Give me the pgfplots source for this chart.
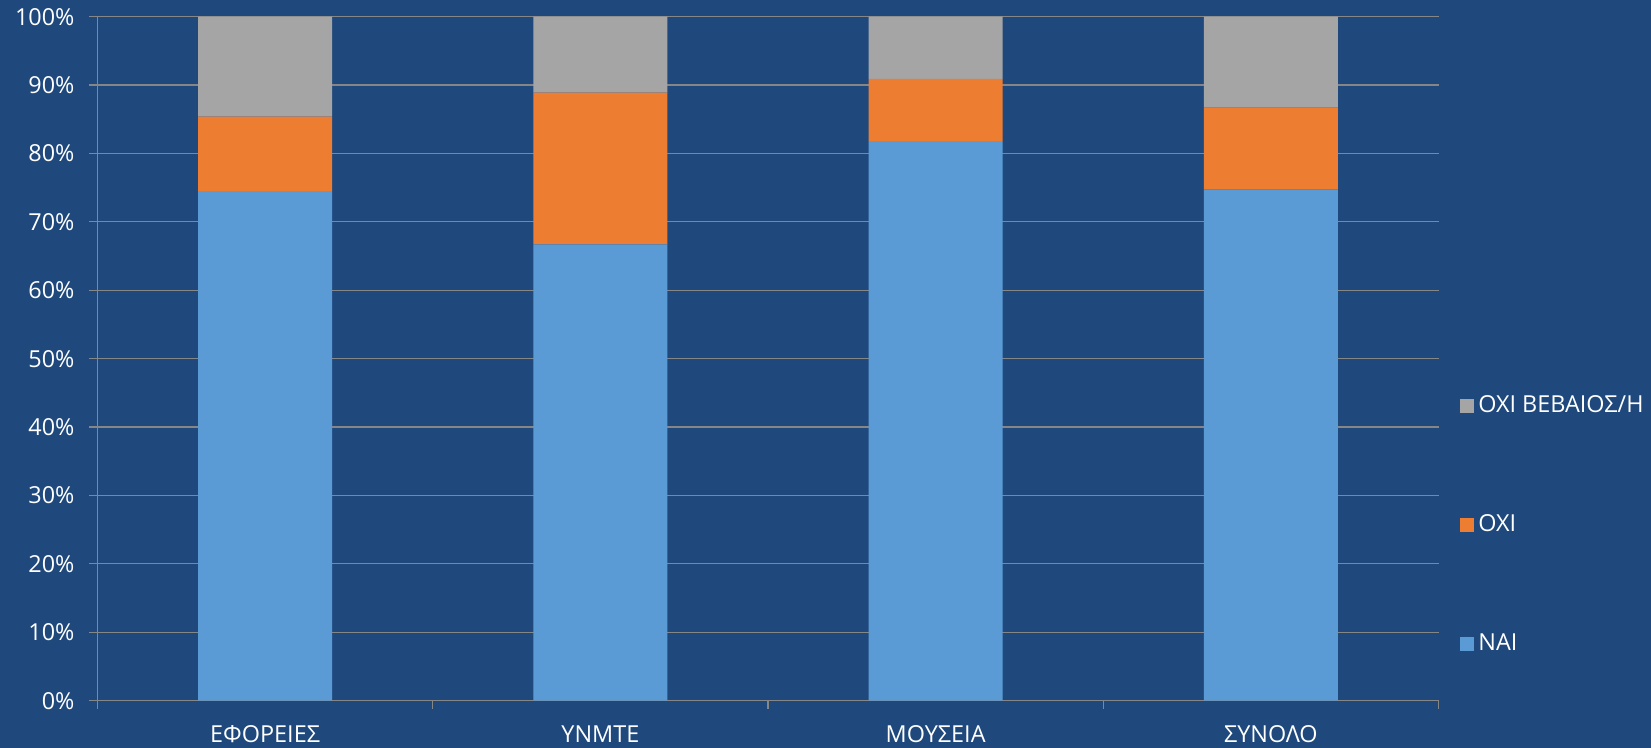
\documentclass[border=0pt]{standalone}
\usepackage{pgfplots}
\pgfplotsset{compat=1.18}
\usepackage{fontspec}
\setmainfont{Open Sans}
\definecolor{bg}{RGB}{31,73,125}
\definecolor{naicol}{RGB}{91,155,213}
\definecolor{oxicol}{RGB}{237,125,49}
\definecolor{nscol}{RGB}{165,165,165}
\definecolor{gridc}{RGB}{134,134,134}
\begin{document}
\begin{tikzpicture}
\path[fill=bg, use as bounding box] (0,0) rectangle (825.5pt,374pt);
\begin{axis}[
  at={(48.75pt,23.65pt)}, anchor=south west,
  width=670.5pt, height=342pt, scale only axis,
  ybar stacked, bar width=67pt,
  xmin=-0.5, xmax=3.5, ymin=0, ymax=100,
  xtick={0,1,2,3},
  xticklabels={ΕΦΟΡΕΙΕΣ,ΥΝΜΤΕ,ΜΟΥΣΕΙΑ,ΣΥΝΟΛΟ},
  minor xtick={-0.5,0.5,1.5,2.5,3.5},
  major x tick style={draw=none},
  minor tick length=4pt,
  ytick={0,10,...,100},
  yticklabel={\pgfmathprintnumber{\tick}\%},
  /pgf/number format/assume math mode=true,
  tick align=outside, major tick length=4pt,
  axis lines*=left,
  axis line style={gridc, line width=0.6pt},
  tick style={gridc, line width=0.6pt},
  ymajorgrids, grid style={gridc, line width=0.6pt},
  ticklabel style={white, font=\fontsize{11.7}{14}\selectfont},
  yticklabel style={xshift=-4pt},
  xticklabel style={yshift=-5pt},
  every axis plot/.append style={draw=none},
  clip=false,
  reverse legend,
  legend style={draw=none, fill=none, at={(1.0157,0.452)}, anchor=north west,
    font=\fontsize{11.7}{14}\selectfont\color{white},
    row sep=45.5pt, inner sep=0pt},
  legend cell align=left,
  legend image code/.code={\fill[#1] (0pt,-3.6pt) rectangle (7.2pt,3.6pt);},
]
\addplot[fill=naicol] coordinates {(0,74.5) (1,66.7) (2,81.8) (3,74.7)};
\addplot[fill=oxicol] coordinates {(0,10.9) (1,22.2) (2,9.1) (3,12.0)};
\addplot[fill=nscol] coordinates {(0,14.6) (1,11.1) (2,9.1) (3,13.3)};
\legend{ΝΑΙ,ΟΧΙ,ΟΧΙ ΒΕΒΑΙΟΣ/Η}
\end{axis}
\end{tikzpicture}
\end{document}
